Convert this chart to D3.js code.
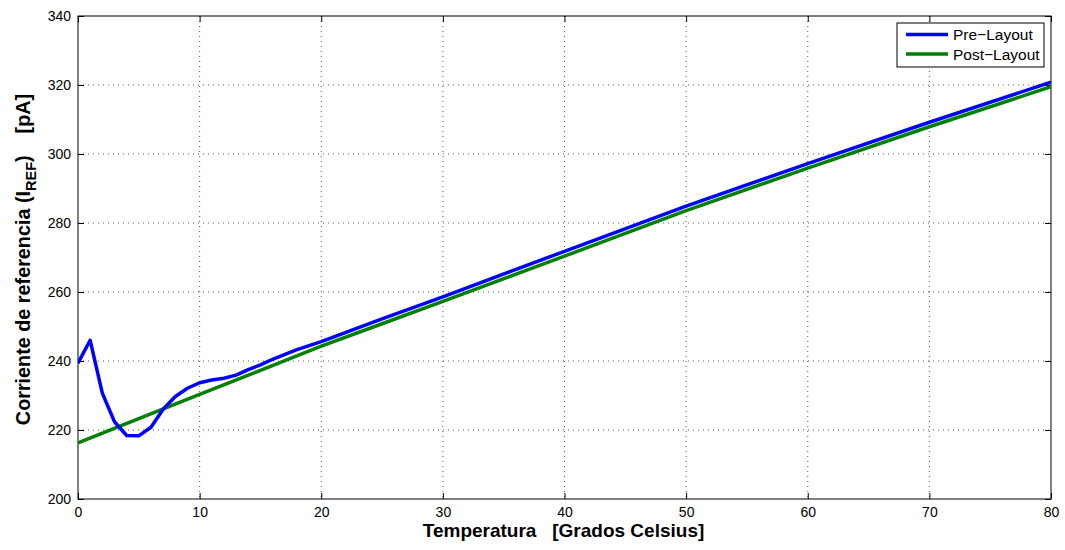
<!DOCTYPE html>
<html>
<head>
<meta charset="utf-8">
<script src="https://cdn.jsdelivr.net/npm/d3@7"></script>
<style>
  body { margin: 0; background: #fff; }
  svg { display: block; font-family: "Liberation Sans", Arial, Helvetica, sans-serif; }
  .tick-label { font-size: 14px; fill: #000; }
  .legend-label { font-size: 15.5px; fill: #000; }
  .axis-title { font-size: 19px; font-weight: bold; fill: #000; }
  .grid line { stroke: #555; stroke-width: 1; stroke-dasharray: 1,4; }
</style>
</head>
<body>
<div id="chart"></div>
<script>
// Temperature (°C) and reference current (pA)
var tempPre  = [0, 1, 2, 3, 4, 5, 6, 7, 8, 9, 10, 11, 12, 13, 14, 15, 16, 18, 20, 25, 30, 40, 50, 60, 70, 80];
var preLayout = [239.4, 246.0, 230.7, 222.4, 218.4, 218.3, 220.8, 226.0, 229.7, 232.1, 233.7, 234.5, 235.0, 235.9,
                 237.5, 238.9, 240.5, 243.3, 245.6, 252.2, 258.6, 271.8, 284.9, 297.2, 309.2, 320.8];
var tempPost = [0, 5, 10, 15, 20, 25, 30, 40, 50, 60, 70, 80];
var postLayout = [216.3, 223.3, 230.3, 237.3, 244.3, 250.8, 257.3, 270.4, 283.6, 295.9, 307.9, 319.5];
var xTicks = [0, 10, 20, 30, 40, 50, 60, 70, 80];
var yTicks = [200, 220, 240, 260, 280, 300, 320, 340];
var seriesNames = ["Pre\u2212Layout", "Post\u2212Layout"];
var seriesColors = ["#0000ff", "#008000"];

var W = 1065, H = 550;
var m = { left: 78, right: 14, top: 16, bottom: 51 };
var pw = W - m.left - m.right, ph = H - m.top - m.bottom;

var svg = d3.select("#chart").append("svg").attr("width", W).attr("height", H);
var g = svg.append("g").attr("transform", "translate(" + m.left + "," + m.top + ")");

var x = d3.scaleLinear().domain([0, 80]).range([0, pw]);
var y = d3.scaleLinear().domain([200, 340]).range([ph, 0]);

// dotted grid
var grid = g.append("g").attr("class", "grid");
grid.selectAll(".gx").data(xTicks.slice(1, -1)).enter().append("line")
  .attr("x1", function (d) { return x(d); }).attr("x2", function (d) { return x(d); })
  .attr("y1", 0).attr("y2", ph);
grid.selectAll(".gy").data(yTicks.slice(1, -1)).enter().append("line")
  .attr("y1", function (d) { return y(d); }).attr("y2", function (d) { return y(d); })
  .attr("x1", 0).attr("x2", pw);

// axes with inward ticks on all four sides (MATLAB box style)
function styleAxis(sel) {
  sel.attr("font-family", null).attr("font-size", null);
  sel.select(".domain").remove();
  sel.selectAll(".tick line").attr("stroke", "#000");
  sel.selectAll(".tick text").attr("class", "tick-label");
}
g.append("g").attr("transform", "translate(0," + ph + ")")
  .call(d3.axisBottom(x).tickValues(xTicks).tickSize(-6).tickPadding(8).tickFormat(d3.format("d")))
  .call(styleAxis);
g.append("g")
  .call(d3.axisTop(x).tickValues(xTicks).tickSize(-6).tickFormat(""))
  .call(styleAxis);
g.append("g")
  .call(d3.axisLeft(y).tickValues(yTicks).tickSize(-6).tickPadding(7).tickFormat(d3.format("d")))
  .call(styleAxis);
g.append("g").attr("transform", "translate(" + pw + ",0)")
  .call(d3.axisRight(y).tickValues(yTicks).tickSize(-6).tickFormat(""))
  .call(styleAxis);

g.append("rect").attr("width", pw).attr("height", ph)
  .attr("fill", "none").attr("stroke", "#000").attr("stroke-width", 1);

// lines (post-layout drawn first so pre-layout sits on top)
svg.append("defs").append("clipPath").attr("id", "clip")
  .append("rect").attr("width", pw).attr("height", ph);
var line = d3.line().x(function (d) { return x(d[0]); }).y(function (d) { return y(d[1]); });
var series = [
  { pts: d3.zip(tempPost, postLayout), color: seriesColors[1] },
  { pts: d3.zip(tempPre, preLayout), color: seriesColors[0] }
];
g.append("g").attr("clip-path", "url(#clip)")
  .selectAll("path").data(series).enter().append("path")
  .attr("d", function (d) { return line(d.pts); }).attr("fill", "none")
  .attr("stroke", function (d) { return d.color; })
  .attr("stroke-width", 3.5).attr("stroke-linejoin", "round");

// legend
var lg = svg.append("g").attr("transform", "translate(897,23)");
lg.append("rect").attr("width", 147).attr("height", 44)
  .attr("fill", "#fff").attr("stroke", "#000").attr("stroke-width", 1);
seriesNames.forEach(function (name, i) {
  var yy = 11.5 + i * 19.5;
  lg.append("line").attr("x1", 9).attr("x2", 51).attr("y1", yy).attr("y2", yy)
    .attr("stroke", seriesColors[i]).attr("stroke-width", 3.5);
  lg.append("text").attr("x", 56).attr("y", yy + 5.5).attr("class", "legend-label").text(name);
});

// axis titles
svg.append("text").attr("class", "axis-title").attr("x", m.left + pw / 2 - 1).attr("y", 537)
  .attr("text-anchor", "middle").attr("xml:space", "preserve").text("Temperatura   [Grados Celsius]");

var yt = svg.append("text").attr("class", "axis-title").style("font-size", "19.8px")
  .attr("transform", "translate(30," + (m.top + ph / 2 + 2) + ") rotate(-90)")
  .attr("text-anchor", "middle").attr("xml:space", "preserve");
yt.append("tspan").text("Corriente de referencia (I");
yt.append("tspan").attr("dy", 6).style("font-size", "14.5px").text("REF");
yt.append("tspan").attr("dy", -6).text(")    [pA]");
</script>
</body>
</html>
